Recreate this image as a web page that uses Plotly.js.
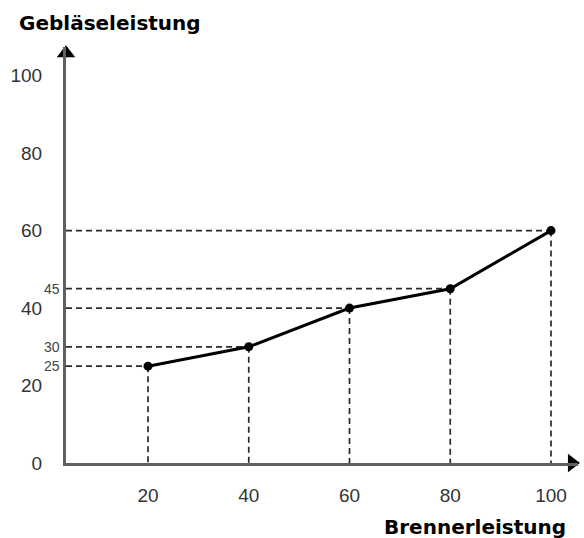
<!DOCTYPE html>
<html>
<head>
<meta charset="utf-8">
<script src="https://cdn.plot.ly/plotly-3.0.1.min.js"></script>
<style>html,body{margin:0;padding:0;background:#fff;}#chart{width:584px;height:538px;}</style>
</head>
<body>
<div id="chart"></div>
<script>
// Data
var brenner = [20, 40, 60, 80, 100];          // Brennerleistung (x)
var geblaese = [25, 30, 40, 45, 60];          // Gebläseleistung (y)
var yTickVals = [0, 20, 40, 60, 80, 100];
var xTickVals = [20, 40, 60, 80, 100];
var smallLabels = [25, 30, 45];

var xRange = [3.72, 105.36];
var yRange = [0, 107.4];

// guide lines from the axes to each point
var gx = [], gy = [];
for (var i = 0; i < brenner.length; i++) {
  gx.push(xRange[0], brenner[i], null, brenner[i], brenner[i], null);
  gy.push(geblaese[i], geblaese[i], null, geblaese[i], 0, null);
}

var traces = [
  {x: gx, y: gy, mode: 'lines', line: {color: '#2a2a2a', width: 1.7, dash: '6px,4px'},
   hoverinfo: 'skip', showlegend: false},
  {x: brenner, y: geblaese, mode: 'lines+markers',
   line: {color: '#000', width: 3}, marker: {color: '#000', size: 9},
   showlegend: false},
  // axis arrowheads
  {x: [xRange[1] - 1.2], y: [0], mode: 'markers', cliponaxis: false,
   marker: {symbol: 'triangle-right', size: 16, color: '#000'}, hoverinfo: 'skip', showlegend: false},
  {x: [xRange[0]], y: [yRange[1] - 1.6], mode: 'markers', cliponaxis: false,
   marker: {symbol: 'triangle-up', size: 16, color: '#000'}, hoverinfo: 'skip', showlegend: false}
];

var plotW = 584 - 66 - 6, plotH = 538 - 47 - 75;

var annotations = smallLabels.map(function (v) {
  return {x: xRange[0], y: v, xref: 'x', yref: 'y', text: String(v), showarrow: false,
          xanchor: 'right', yanchor: 'middle', xshift: -4,
          font: {family: 'Liberation Sans, Arial, sans-serif', size: 14, color: '#444'}};
});
annotations.push({
  x: (568 - 66) / plotW, xanchor: 'right', y: -(527 - (538 - 75)) / plotH, yanchor: 'middle',
  xref: 'paper', yref: 'paper', text: '<b>Brennerleistung</b>', showarrow: false,
  font: {family: 'DejaVu Sans, Verdana, sans-serif', size: 20, color: '#000'}
});

var layout = {
  width: 584, height: 538,
  margin: {l: 66, r: 6, t: 47, b: 75},
  paper_bgcolor: '#fff', plot_bgcolor: '#fff',
  title: {text: '<b>Gebläseleistung</b>', x: 19 / 584, xanchor: 'left', xref: 'container',
          y: 1 - 23 / 538, yanchor: 'middle', yref: 'container',
          font: {family: 'DejaVu Sans, Verdana, sans-serif', size: 20, color: '#000'}},
  xaxis: {range: xRange, showgrid: false, zeroline: false, showline: true,
          linecolor: '#606060', linewidth: 3, tickmode: 'array', tickvals: xTickVals,
          ticks: 'outside', ticklen: 13, tickcolor: 'rgba(0,0,0,0)',
          tickfont: {family: 'Liberation Sans, Arial, sans-serif', size: 19, color: '#333'}},
  yaxis: {range: yRange, showgrid: false, zeroline: false, showline: true,
          linecolor: '#606060', linewidth: 3, tickmode: 'array', tickvals: yTickVals,
          ticks: 'outside', ticklen: 17, tickcolor: 'rgba(0,0,0,0)',
          tickfont: {family: 'Liberation Sans, Arial, sans-serif', size: 19, color: '#333'}},
  annotations: annotations,
  showlegend: false
};

Plotly.newPlot('chart', traces, layout, {displayModeBar: false, staticPlot: true});
</script>
</body>
</html>
